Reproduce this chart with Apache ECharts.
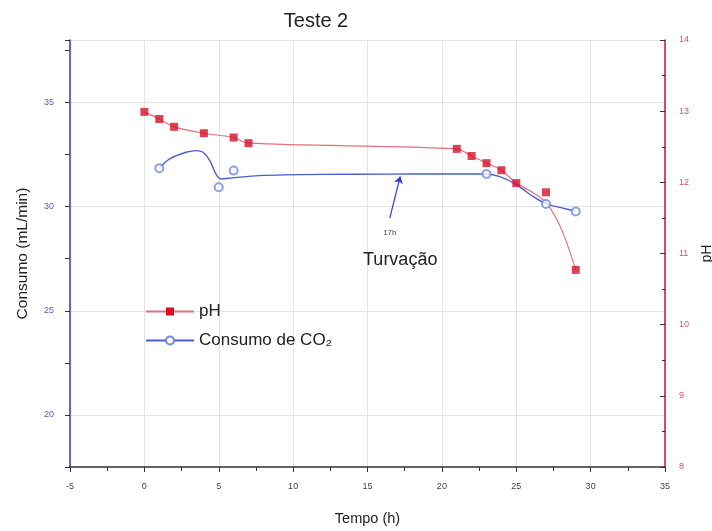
<!DOCTYPE html>
<html>
<head>
<meta charset="utf-8">
<script src="https://cdn.jsdelivr.net/npm/echarts@6/dist/echarts.min.js"></script>
<style>html,body{margin:0;padding:0;background:#fff}#c{width:712px;height:531px}</style>
</head>
<body>
<div id="c"></div>
<script>
// ---- data ----
const phTimes   = [0, 1, 2, 4, 6, 7, 21, 22, 23, 24, 25, 27, 29];
const phValues  = [12.99, 12.89, 12.78, 12.69, 12.63, 12.55, 12.47, 12.37, 12.27, 12.17, 11.99, 11.86, 10.77];
// fitted (smoothed) pH curve as drawn in the reference
const phCurveT  = [0, 1, 2, 4, 6, 7, 21, 22, 23, 24, 25, 26, 27, 28, 29];
const phCurveV  = [12.99, 12.89, 12.78, 12.69, 12.63, 12.55, 12.47, 12.37, 12.27, 12.17, 11.99, 11.87, 11.72, 11.36, 10.77];

const co2Times  = [1, 5, 6, 23, 27, 29];
const co2Values = [31.84, 30.93, 31.73, 31.57, 30.13, 29.77];
// fitted (smoothed) CO2 curve as drawn in the reference
const co2CurveT = [1, 1.7, 2.8, 3.5, 3.95, 4.4, 4.8, 5.15, 5.9, 7.7, 11.8, 16.3, 20, 23, 23.9, 25, 26.1, 27, 28, 29];
const co2CurveV = [31.84, 32.29, 32.61, 32.69, 32.61, 32.21, 31.57, 31.33, 31.38, 31.49, 31.55, 31.56, 31.57, 31.57, 31.44, 31.06, 30.5, 30.13, 29.95, 29.77];

const xTicks = [-5, 0, 5, 10, 15, 20, 25, 30, 35];
const leftLabels = [20, 25, 30, 35];
const rightLabels = [8, 9, 10, 11, 12, 13, 14];

const annotArrow = [[16.5, 29.45], [17.2, 31.45]];
const annotSmall = {t: 16.5, v: 28.75, text: '17h'};
const annotBig = {t: 17.2, v: 27.45, text: 'Turvação'};

const zip = (a, b) => a.map((v, i) => [v, b[i]]);

const FONT = 'Liberation Sans, Arial, sans-serif';
const BLUE_AX = '#3a3ab4';
const RED_AX = '#c8143c';

const chart = echarts.init(document.getElementById('c'));
chart.setOption({
  backgroundColor: '#ffffff',
  animation: false,
  textStyle: {fontFamily: FONT},
  title: {
    text: 'Teste 2', left: 311, top: 6, textAlign: 'center',
    textStyle: {fontSize: 20, fontWeight: 'normal', color: '#222', fontFamily: FONT}
  },
  grid: {left: 70, right: 47, top: 40, bottom: 64, containLabel: false, outerBoundsMode: 'none'},
  legend: {
    orient: 'vertical', left: 140, top: 298, itemWidth: 48, itemHeight: 10, itemGap: 12,
    data: ['pH', 'Consumo de CO₂'],
    textStyle: {fontSize: 17, color: '#222', fontFamily: FONT}
  },
  xAxis: {
    type: 'value', min: xTicks[0], max: xTicks[xTicks.length - 1], interval: 5,
    name: 'Tempo (h)', nameLocation: 'middle', nameGap: 44,
    nameTextStyle: {fontSize: 14.5, color: '#222'},
    axisLine: {onZero: false, lineStyle: {color: '#333', width: 1.5}},
    axisTick: {show: true, length: 5, inside: false, lineStyle: {color: '#333'}},
    minorTick: {show: true, splitNumber: 2, length: 4, lineStyle: {color: '#333'}},
    axisLabel: {fontSize: 9, color: '#444', margin: 15},
    splitLine: {show: true, lineStyle: {color: '#e4e4e4', width: 1}}
  },
  yAxis: [
    {
      type: 'value', position: 'left', min: 17.5, max: 38, interval: 2.5,
      name: 'Consumo (mL/min)', nameLocation: 'middle', nameGap: 39,
      nameTextStyle: {fontSize: 15.5, color: '#222'},
      axisLine: {show: true, onZero: false, lineStyle: {color: BLUE_AX, width: 1.5}},
      axisTick: {show: true, length: 5, lineStyle: {color: '#333'}},
      axisLabel: {
        fontSize: 9, color: '#5a5ac8', margin: 16,
        formatter: v => leftLabels.includes(v) ? String(v) : ''
      },
      splitLine: {show: true, lineStyle: {color: ['rgba(0,0,0,0)', '#e4e4e4'], width: 1}}
    },
    {
      type: 'value', position: 'right', min: rightLabels[0], max: rightLabels[rightLabels.length - 1], interval: 1,
      name: 'pH', nameLocation: 'middle', nameGap: 27,
      nameTextStyle: {fontSize: 14, color: '#222'},
      axisLine: {show: true, onZero: false, lineStyle: {color: RED_AX, width: 1.5}},
      axisTick: {show: true, inside: true, length: 5, lineStyle: {color: '#333'}},
      minorTick: {show: true, splitNumber: 2, length: 3, lineStyle: {color: '#333'}},
      axisLabel: {fontSize: 9, color: '#d85070', margin: 14},
      splitLine: {show: false}
    }
  ],
  series: [
    {
      name: 'pH', type: 'line', yAxisIndex: 1, data: zip(phCurveT, phCurveV),
      smooth: 0.3, showSymbol: false, symbol: 'rect', symbolSize: 8,
      lineStyle: {color: '#e0707e', width: 1.2}, itemStyle: {color: '#d8102c'}, z: 2
    },
    {
      name: 'pH', type: 'scatter', yAxisIndex: 1, data: zip(phTimes, phValues),
      symbol: 'rect', symbolSize: 8, itemStyle: {color: '#d8102c'}, z: 5
    },
    {
      name: 'Consumo de CO₂', type: 'line', yAxisIndex: 0, data: zip(co2CurveT, co2CurveV),
      smooth: 0.3, showSymbol: false, symbol: 'emptyCircle', symbolSize: 8,
      lineStyle: {color: '#4b5cd2', width: 1.4}, itemStyle: {color: '#6f88e2'}, z: 3,
      markLine: {
        silent: true, symbol: ['none', 'arrow'], symbolSize: 7,
        lineStyle: {color: '#2f3fc8', width: 1.2, type: 'solid'},
        label: {show: false},
        data: [[{coord: annotArrow[0]}, {coord: annotArrow[1]}]]
      },
      markPoint: {
        silent: true, symbol: 'circle', symbolSize: 0,
        data: [
          {coord: [annotSmall.t, annotSmall.v], label: {show: true, formatter: annotSmall.text, fontSize: 8, color: '#444', position: 'inside'}},
          {coord: [annotBig.t, annotBig.v], label: {show: true, formatter: annotBig.text, fontSize: 18, color: '#222', position: 'inside'}}
        ]
      }
    },
    {
      name: 'Consumo de CO₂', type: 'scatter', yAxisIndex: 0, data: zip(co2Times, co2Values),
      symbol: 'emptyCircle', symbolSize: 8,
      itemStyle: {color: '#6f88e2', borderColor: '#6f88e2', borderWidth: 1.2}, z: 6
    }
  ]
});
</script>
</body>
</html>
